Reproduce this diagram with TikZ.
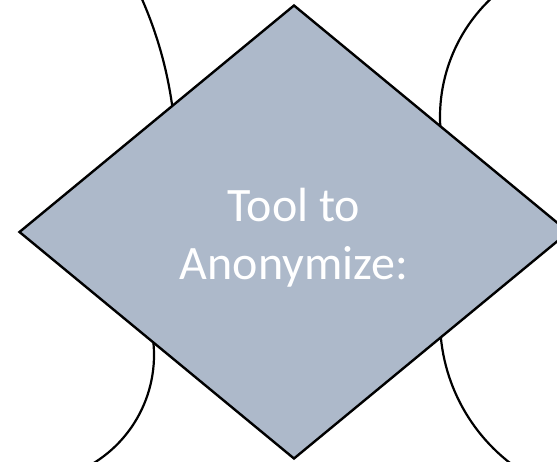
\documentclass[tikz,border=0pt]{standalone}
\usepackage{tikz}
\usetikzlibrary{shapes.geometric}
\usepackage{fontspec}
\setmainfont{Carlito}
\definecolor{slate}{HTML}{ADB9CA}
\tikzstyle{decision}=[diamond, draw, line width=2.4pt, fill=slate, text=white, inner sep=0pt, minimum width=550pt, minimum height=454pt, align=center, font=\fontsize{48}{58}\selectfont]
\tikzstyle{rim}=[draw, line width=2.2pt]

\begin{document}
\begin{tikzpicture}[x=1pt,y=1pt]
\useasboundingbox (0,0) rectangle (557,461);
\clip (0,0) rectangle (557,461);
% arcs behind the diamond
\foreach \cx/\cy/\r/\a/\b in {-226/300/402/-10/30, 27/106/127/10/-65, 603/344/163/190/125, 621/141/181/180/238}{
	\draw[rim] (\cx,\cy) ++(\a:\r) arc[start angle=\a, end angle=\b, radius=\r];
}
\node[decision] (tool) at (294,229) {\rule{0pt}{45pt}Tool to\\Anonymize:};
\end{tikzpicture}
\end{document}
